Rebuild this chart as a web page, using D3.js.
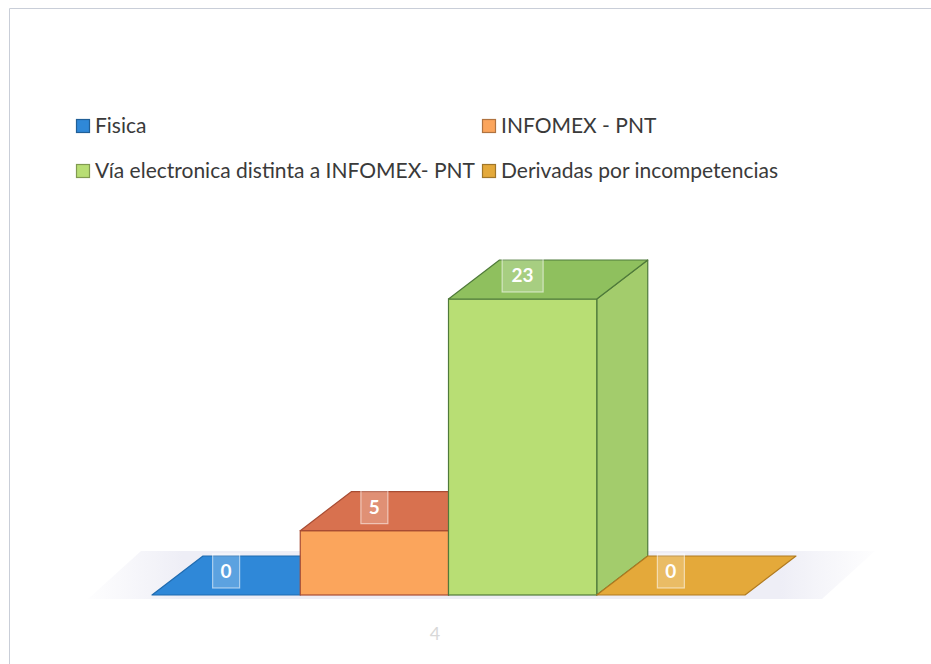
<!DOCTYPE html>
<html>
<head>
<meta charset="utf-8">
<script src="https://cdn.jsdelivr.net/npm/d3@7"></script>
<style>
body { margin: 0; background: #fff; }
text { font-family: Lato, "Open Sans", sans-serif; }
</style>
</head>
<body>
<div id="chart"></div>
<script>
var categories = ["Fisica", "INFOMEX - PNT", "Vía electronica distinta a INFOMEX- PNT", "Derivadas por incompetencias"];
var values = [0, 5, 23, 0];
var axisLabels = ["4"];

var frontColors = ["#2f88d8", "#fba55c", "#b8de74", "#e4a93a"];
var topColors = ["#2a7fcc", "#d8714f", "#8fc05e", "#dea234"];
var sideColors = ["#2a78c0", "#e98f4e", "#a3cc6c", "#d0962f"];
var lineColors = ["#1f6bb0", "#a84c33", "#4f7a3a", "#b07a20"];

var width = 931, height = 664;
var depthX = 51, depthY = -39;

var svg = d3.select("#chart")
	.append("svg")
	.attr("width", width)
	.attr("height", height);

// frame
svg.append("path")
	.attr("d", "M9.5,664 L9.5,8.5 L931,8.5")
	.attr("fill", "none")
	.attr("stroke", "#c9ced8")
	.attr("stroke-width", 1);

var x = d3.scaleBand()
	.domain(categories)
	.range([152, 745])
	.padding(0);

var y = d3.scaleLinear()
	.domain([0, 23])
	.range([595, 299]);

// floor
var floorL = 88, floorR = 822, floorY = y(0) + 4;
var defs = svg.append("defs");
var grad = defs.append("linearGradient").attr("id", "floorGrad")
	.attr("x1", 0).attr("x2", 1).attr("y1", 0).attr("y2", 0);
grad.append("stop").attr("offset", "0%").attr("stop-color", "#f0f0f7").attr("stop-opacity", 0.1);
grad.append("stop").attr("offset", "12%").attr("stop-color", "#eeeef6").attr("stop-opacity", 1);
grad.append("stop").attr("offset", "88%").attr("stop-color", "#eeeef6").attr("stop-opacity", 1);
grad.append("stop").attr("offset", "100%").attr("stop-color", "#f0f0f7").attr("stop-opacity", 0.1);

svg.append("path")
	.attr("d", "M" + floorL + "," + floorY + " L" + floorR + "," + floorY +
		" L" + (floorR + depthX + 2) + "," + (floorY + depthY - 9) +
		" L" + (floorL + depthX + 2) + "," + (floorY + depthY - 9) + "Z")
	.attr("fill", "url(#floorGrad)");

var bars = svg.selectAll("g.bar")
	.data(categories.map(function (c, i) { return { name: c, value: values[i], i: i }; }))
	.enter()
	.append("g")
	.attr("class", "bar");

bars.each(function (d) {
	var g = d3.select(this);
	var x0 = x(d.name), x1 = x(d.name) + x.bandwidth();
	var yb = y(0), yt = y(d.value);
	var stroke = lineColors[d.i];
	if (d.value > 0) {
		// side
		g.append("path")
			.attr("d", "M" + x1 + "," + yt + " L" + (x1 + depthX) + "," + (yt + depthY) +
				" L" + (x1 + depthX) + "," + (yb + depthY) + " L" + x1 + "," + yb + "Z")
			.attr("fill", sideColors[d.i])
			.attr("stroke", stroke).attr("stroke-width", 1.2).attr("stroke-linejoin", "round");
		// front
		g.append("rect")
			.attr("x", x0).attr("y", yt)
			.attr("width", x1 - x0).attr("height", yb - yt)
			.attr("fill", frontColors[d.i])
			.attr("stroke", stroke).attr("stroke-width", 1.2);
	}
	// top
	g.append("path")
		.attr("d", "M" + x0 + "," + yt + " L" + x1 + "," + yt +
			" L" + (x1 + depthX) + "," + (yt + depthY) + " L" + (x0 + depthX) + "," + (yt + depthY) + "Z")
		.attr("fill", d.value > 0 ? topColors[d.i] : frontColors[d.i])
		.attr("stroke", stroke).attr("stroke-width", 1.2).attr("stroke-linejoin", "round");
});

// data labels
bars.each(function (d) {
	var g = d3.select(this);
	var cx = x(d.name) + x.bandwidth() / 2;
	var label = String(d.value);
	var w = label.length > 1 ? 41 : 27;
	var top = y(d.value) + depthY - 2;
	g.append("rect")
		.attr("x", cx - w / 2).attr("y", top)
		.attr("width", w).attr("height", 34)
		.attr("fill", "#ffffff").attr("fill-opacity", 0.22)
		.attr("stroke", "#ffffff").attr("stroke-opacity", 0.55).attr("stroke-width", 1.2);
	g.append("text")
		.attr("x", cx).attr("y", top + 24)
		.attr("text-anchor", "middle")
		.attr("fill", "#ffffff")
		.attr("font-size", 19)
		.attr("font-weight", "bold")
		.text(label);
});

// category axis label
svg.append("text")
	.attr("x", 435).attr("y", 640)
	.attr("text-anchor", "middle")
	.attr("fill", "#d8d8d8")
	.attr("font-size", 18)
	.text(axisLabels[0]);

// legend
var legendX = [76, 482];
var legendY = [119, 164];
var legend = svg.selectAll("g.legend")
	.data(categories)
	.enter()
	.append("g")
	.attr("class", "legend")
	.attr("transform", function (d, i) {
		return "translate(" + legendX[i % 2] + "," + legendY[Math.floor(i / 2)] + ")";
	});

legend.append("rect")
	.attr("x", 0.5).attr("y", 0.5)
	.attr("width", 13).attr("height", 13)
	.attr("fill", function (d, i) { return frontColors[i]; })
	.attr("stroke", function (d, i) { return d3.color(frontColors[i]).darker(1); })
	.attr("stroke-width", 1.2);

legend.append("text")
	.attr("x", 19)
	.attr("y", 14)
	.attr("fill", "#3a3a3a")
	.attr("font-size", 21)
	.text(function (d) { return d; });
</script>
</body>
</html>
